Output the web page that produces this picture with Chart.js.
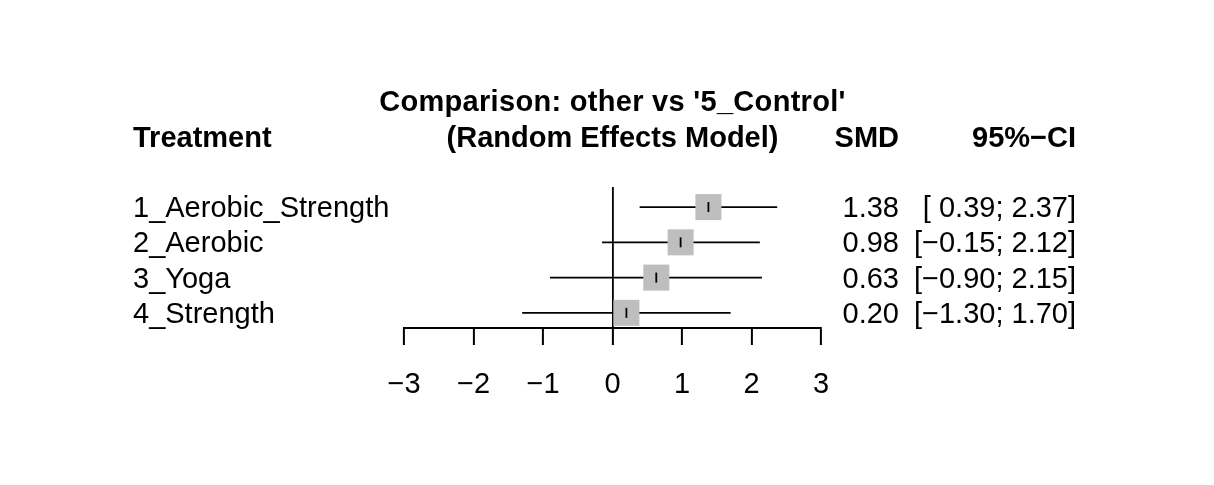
<!DOCTYPE html>
<html>
<head>
<meta charset="utf-8">
<title>Forest plot</title>
<script src="https://cdn.jsdelivr.net/npm/chart.js@4"></script>
<style>
  body { margin: 0; background: #fff; }
  #wrap { width: 1214px; height: 485px; }
</style>
</head>
<body>
<div id="wrap"><canvas id="forest"></canvas></div>
<script>
// Data
const treatments = ['1_Aerobic_Strength', '2_Aerobic', '3_Yoga', '4_Strength'];
const smd = [1.38, 0.98, 0.63, 0.20];
const ciLower = [0.39, -0.15, -0.90, -1.30];
const ciUpper = [2.37, 2.12, 2.15, 1.70];
const xTicks = [-3, -2, -1, 0, 1, 2, 3];

const FONT = "'Liberation Sans', Arial, sans-serif";
const SIZE = 29;

// R style numbers with a real minus sign
function fmt(v) {
    const s = Math.abs(v).toFixed(2);
    return (v < 0 ? '\u2212' : ' ') + s;
}
const smdLabels = smd.map(v => v.toFixed(2));
const ciLabels = ciLower.map((lo, i) => '[' + fmt(lo) + '; ' + ciUpper[i].toFixed(2) + ']');

// one whisker line per treatment
const whiskers = treatments.map((t, i) => ({
    type: 'line',
    data: [{ x: ciLower[i], y: i + 1 }, { x: ciUpper[i], y: i + 1 }],
    borderColor: '#000',
    borderWidth: 1.8,
    pointRadius: 0,
    order: 3
}));

// title and column headers
const headerPlugin = {
    id: 'headers',
    afterDraw(chart) {
        const ctx = chart.ctx;
        const area = chart.chartArea;
        const mid = (area.left + area.right) / 2;
        const y1 = area.top - 84;
        const y2 = area.top - 48;
        ctx.save();
        ctx.fillStyle = '#000';
        ctx.font = 'bold ' + SIZE + 'px ' + FONT;
        ctx.textBaseline = 'middle';
        ctx.textAlign = 'center';
        ctx.letterSpacing = '0.3px';
        ctx.fillText("Comparison: other vs '5_Control'", mid, y1);
        ctx.letterSpacing = '0px';
        ctx.fillText('(Random Effects Model)', mid, y2);
        ctx.textAlign = 'left';
        ctx.fillText('Treatment', chart.scales.y.left, y2);
        ctx.textAlign = 'right';
        ctx.fillText('SMD', chart.scales.ySmd.right, y2);
        ctx.fillText('95%\u2212CI', chart.scales.yCi.right, y2);
        ctx.restore();
    }
};

const rowTicks = scale => { scale.ticks = treatments.map((t, i) => ({ value: i + 1 })); };
const yBase = {
    type: 'linear',
    min: 0.43,
    max: 4.43,
    reverse: true,
    grid: { display: false },
    border: { display: false },
    afterBuildTicks: rowTicks
};

new Chart(document.getElementById('forest'), {
    type: 'scatter',
    data: {
        datasets: [
            ...whiskers,
            {
                data: smd.map((v, i) => ({ x: v, y: i + 1 })),
                pointStyle: 'rect',
                pointRadius: 18.4,
                backgroundColor: '#bebebe',
                borderWidth: 0,
                order: 2
            },
            {
                data: smd.map((v, i) => ({ x: v, y: i + 1 })),
                pointStyle: 'line',
                rotation: 90,
                pointRadius: 5,
                borderColor: '#000',
                borderWidth: 1.8,
                order: 1
            }
        ]
    },
    options: {
        responsive: true,
        maintainAspectRatio: false,
        animation: false,
        layout: { padding: { left: 133, right: 138, top: 187, bottom: 88 } },
        plugins: {
            legend: { display: false },
            tooltip: { enabled: false },
            title: { display: false }
        },
        scales: {
            x: {
                type: 'linear',
                min: -3,
                max: 3,
                afterBuildTicks: scale => { scale.ticks = xTicks.map(v => ({ value: v })); },
                afterFit: s => { s.height = 69; },
                ticks: {
                    color: '#000',
                    padding: 23,
                    font: { family: FONT, size: SIZE },
                    callback: v => (v < 0 ? '\u2212' + Math.abs(v) : String(v))
                },
                grid: {
                    drawOnChartArea: true,
                    color: c => (c.tick && c.tick.value === 0 ? '#000' : 'rgba(0,0,0,0)'),
                    lineWidth: 1.8,
                    tickColor: '#000',
                    tickLength: 17,
                    tickWidth: 2
                },
                border: { display: true, color: '#000', width: 2 }
            },
            y: {
                ...yBase,
                position: 'left',
                afterFit: s => { s.width = 271; },
                ticks: {
                    crossAlign: 'far',
                    labelOffset: 2,
                    color: '#000',
                    font: { family: FONT, size: SIZE },
                    callback: (v, i) => treatments[i]
                }
            },
            ySmd: {
                ...yBase,
                position: 'right',
                weight: 1,
                afterFit: s => { s.width = 78; },
                ticks: {
                    crossAlign: 'far',
                    labelOffset: 2,
                    color: '#000',
                    font: { family: FONT, size: SIZE },
                    callback: (v, i) => smdLabels[i]
                }
            },
            yCi: {
                ...yBase,
                position: 'right',
                weight: 2,
                afterFit: s => { s.width = 177; },
                ticks: {
                    crossAlign: 'far',
                    labelOffset: 2,
                    color: '#000',
                    font: { family: FONT, size: SIZE },
                    callback: (v, i) => ciLabels[i]
                }
            }
        }
    },
    plugins: [headerPlugin]
});
</script>
</body>
</html>
